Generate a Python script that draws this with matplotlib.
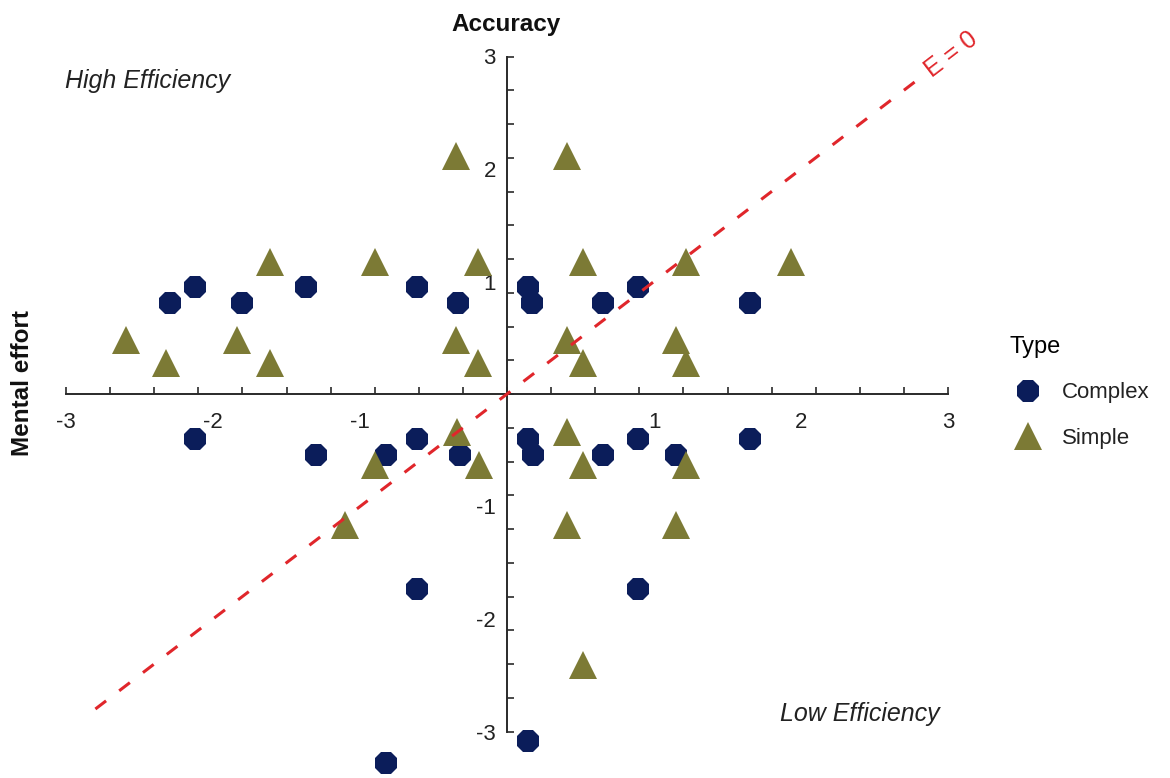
import numpy as np
import matplotlib
matplotlib.use("Agg")
import matplotlib.pyplot as plt
from matplotlib.lines import Line2D

plt.rcParams['font.family'] = ['Liberation Sans', 'DejaVu Sans']

# ---- data ----
complex_x = [-2.29, -2.12, -1.80, -1.37, -0.61, -0.33, 0.14, 0.17, 0.65, 0.89, 1.65,
             -2.12, -1.30, -0.82, -0.61, -0.32, 0.14, 0.18, 0.65, 0.89, 1.15, 1.65,
             -0.61, 0.89, 0.14, -0.82]
complex_y = [0.81, 0.95, 0.81, 0.95, 0.95, 0.81, 0.95, 0.81, 0.81, 0.95, 0.81,
             -0.40, -0.54, -0.54, -0.40, -0.54, -0.40, -0.54, -0.54, -0.40, -0.54, -0.40,
             -1.73, -1.73, -3.08, -3.28]
simple_x = [-0.35, 0.41, -1.61, -0.90, -0.20, 0.52, 1.22, 1.93,
            -2.59, -1.84, -0.35, 0.41, 1.15,
            -2.32, -1.61, -0.20, 0.52, 1.22,
            -0.34, 0.41, -0.90, -0.19, 0.52, 1.22,
            -1.10, 0.41, 1.15, 0.52]
simple_y = [2.12, 2.12, 1.17, 1.17, 1.17, 1.17, 1.17, 1.17,
            0.48, 0.48, 0.48, 0.48, 0.48,
            0.28, 0.28, 0.28, 0.28, 0.28,
            -0.34, -0.34, -0.63, -0.63, -0.63, -0.63,
            -1.16, -1.16, -1.16, -2.41]
e0_line_x = [-2.80, 2.84]
tick_labels = [-3, -2, -1, 1, 2, 3]
type_labels = ['Complex', 'Simple']

NAVY = '#0b1d5a'
OLIVE = '#7c7a35'
RED = '#e0262b'
AXC = '#2a2a2a'

W, H = 1170, 778
fig = plt.figure(figsize=(W / 100, H / 100), dpi=100)
ax = fig.add_axes([0, 0, 1, 1])
x0, sx = 507, 147.0
y0, sy = 394, 112.5
ax.set_xlim(-x0 / sx, (W - x0) / sx)
ax.set_ylim((y0 - H) / sy, y0 / sy)

for s in ['top', 'right']:
    ax.spines[s].set_visible(False)
for s in ['left', 'bottom']:
    ax.spines[s].set_position(('data', 0))
    ax.spines[s].set_bounds(-3, 3)
    ax.spines[s].set_color(AXC)
    ax.spines[s].set_linewidth(1.4)

ax.xaxis.remove_overlapping_locs = False
ax.yaxis.remove_overlapping_locs = False

major = np.round(np.arange(-3, 3.001, 0.3), 2)
ax.set_xticks(major)
ax.set_yticks(major)
ax.set_xticklabels([])
ax.set_yticklabels([])
ax.set_xticks(tick_labels, minor=True)
ax.set_yticks(tick_labels, minor=True)
ax.set_xticklabels([str(t) for t in tick_labels], minor=True)
ax.set_yticklabels([str(t) for t in tick_labels], minor=True)
ax.tick_params(which='major', direction='in', length=5, width=1.2, color=AXC)
ax.tick_params(which='minor', length=0, labelsize=16, labelcolor='#222222')
ax.tick_params(axis='x', which='minor', pad=13)
ax.tick_params(axis='y', which='minor', pad=8)

ax.plot(complex_x, complex_y, linestyle='none', marker='8', markersize=17.5,
        color=NAVY, markeredgewidth=0, zorder=3)
ax.plot(simple_x, simple_y, linestyle='none', marker='^', markersize=20,
        color=OLIVE, markeredgewidth=0, zorder=3)

ax.plot(e0_line_x, e0_line_x, color=RED, linewidth=2.2, dashes=(4.4, 5.4), zorder=4)
ax.text(2.86, 2.86, 'E = 0', color=RED, fontsize=18, rotation=37.4,
        rotation_mode='anchor', ha='left', va='center', zorder=4)

fig.text(506 / W, 1 - 25 / H, 'Accuracy', fontsize=17.5, fontweight='bold',
         ha='center', va='center', color='#111111')
fig.text(23 / W, 1 - 383 / H, 'Mental effort', fontsize=17.5, fontweight='bold',
         rotation=90, ha='center', va='center', color='#111111')
fig.text(65 / W, 1 - 81 / H, 'High Efficiency', fontsize=18, style='italic',
         ha='left', va='center', color='#222222')
fig.text(940 / W, 1 - 714 / H, 'Low Efficiency', fontsize=18, style='italic',
         ha='right', va='center', color='#222222')

handles = [Line2D([], [], linestyle='none', marker='8', markersize=17.5, color=NAVY, markeredgewidth=0),
           Line2D([], [], linestyle='none', marker='^', markersize=20, color=OLIVE, markeredgewidth=0)]
leg = fig.legend(handles, type_labels, title='Type', loc='upper left',
                 bbox_to_anchor=(1010 / W, 1 - 336 / H), frameon=False,
                 fontsize=16, title_fontsize=17, alignment='left',
                 handlelength=1.6, handletextpad=0.73, borderpad=0,
                 borderaxespad=0, labelspacing=1.1)
for t in leg.get_texts():
    t.set_color('#222222')

fig.savefig('out.png', dpi=100)
